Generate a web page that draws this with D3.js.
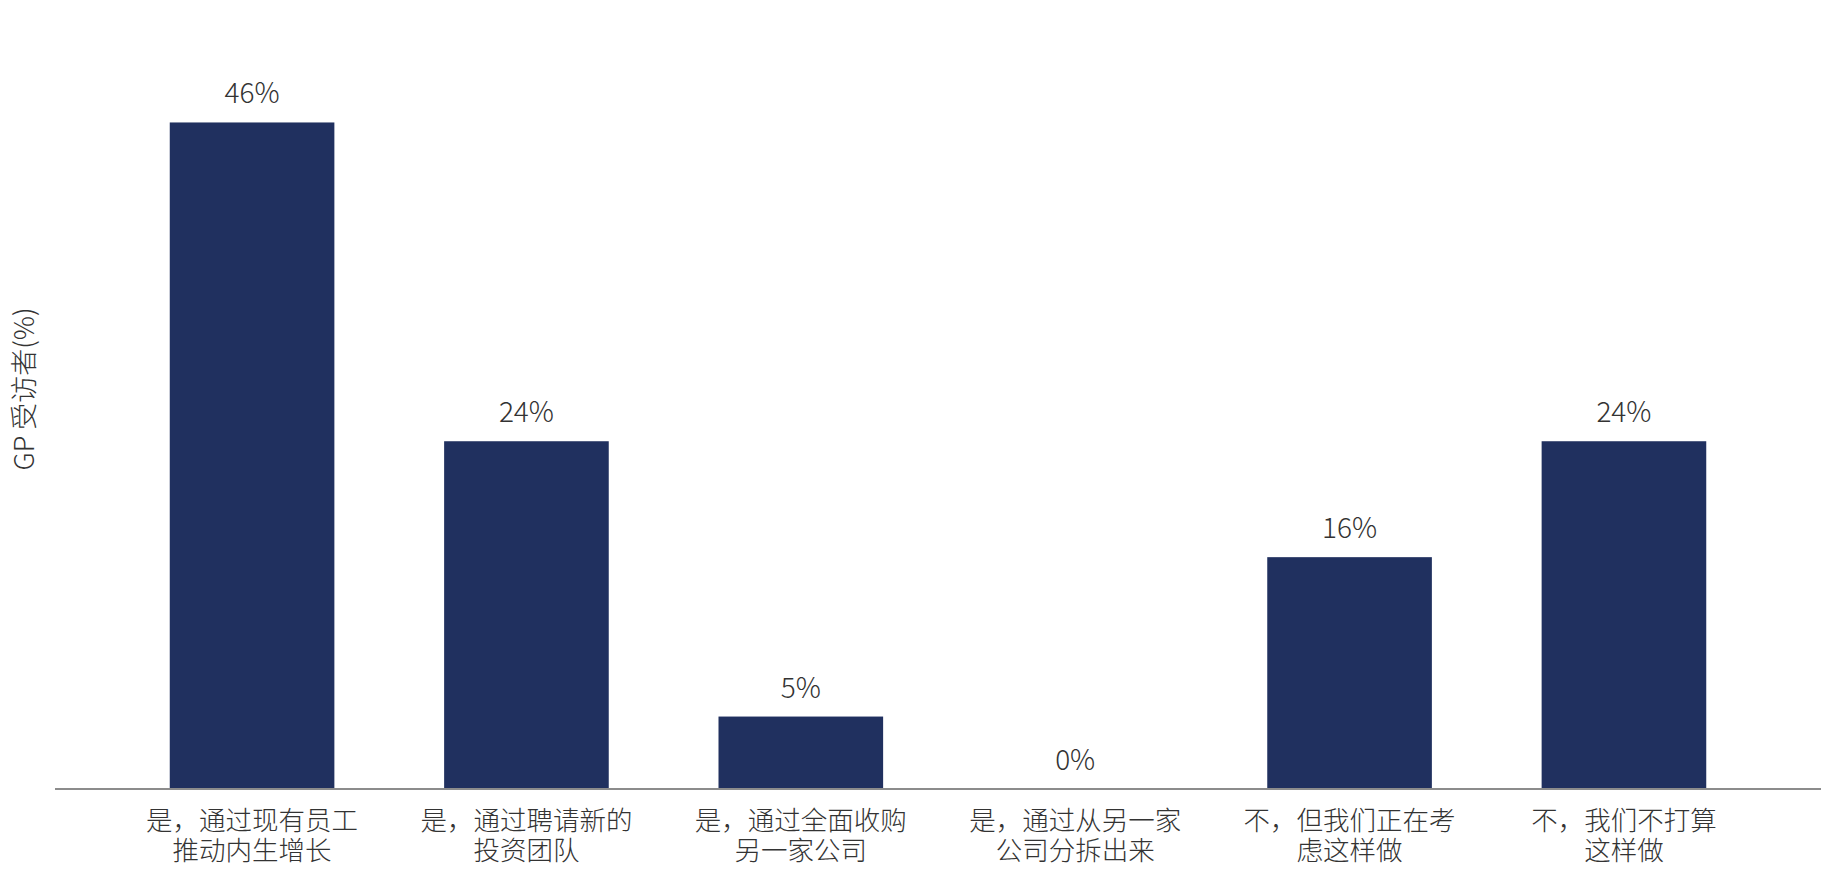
<!DOCTYPE html>
<html>
<head>
<meta charset="utf-8">
<script src="https://cdn.jsdelivr.net/npm/d3@7"></script>
<style>
  html, body { margin: 0; padding: 0; background: #fff; }
  svg { display: block; }
  text { font-family: "Noto Sans CJK SC Light", "Noto Sans CJK SC", "Noto Sans", sans-serif; font-weight: 300; fill: #333; }
</style>
</head>
<body>
<svg id="chart" width="1830" height="880"></svg>
<script>
const categories = [
  ["是，通过现有员工", "推动内生增长"],
  ["是，通过聘请新的", "投资团队"],
  ["是，通过全面收购", "另一家公司"],
  ["是，通过从另一家", "公司分拆出来"],
  ["不，但我们正在考", "虑这样做"],
  ["不，我们不打算", "这样做"]
];
const values = [46, 24, 5, 0, 16, 24];
const yTitle = "GP 受访者(%)";

const svg = d3.select("#chart");
const baseY = 789;

const x = d3.scaleBand()
  .domain(d3.range(categories.length))
  .range([60, 1816])
  .paddingInner(0.4)
  .paddingOuter(0.4);

const y = d3.scaleLinear().domain([0, 50]).range([baseY, 64.5]);

// bars
svg.append("g").selectAll("rect")
  .data(values)
  .join("rect")
  .attr("x", (d, i) => x(i))
  .attr("y", d => y(d))
  .attr("width", x.bandwidth())
  .attr("height", d => baseY - y(d))
  .attr("fill", "#20305f");

// value labels
svg.append("g").selectAll("text")
  .data(values)
  .join("text")
  .attr("x", (d, i) => x(i) + x.bandwidth() / 2)
  .attr("y", d => y(d) - 19)
  .attr("text-anchor", "middle")
  .attr("font-size", 28)
  .text(d => d + "%");

// x axis line
svg.append("line")
  .attr("x1", 55).attr("x2", 1821)
  .attr("y1", baseY).attr("y2", baseY)
  .attr("stroke", "#8c8c8c")
  .attr("stroke-width", 2);

// category labels
const labels = svg.append("g").selectAll("text")
  .data(categories)
  .join("text")
  .attr("text-anchor", "middle")
  .attr("font-size", 26.5);
labels.each(function(d, i) {
  const t = d3.select(this);
  d.forEach((line, j) => {
    t.append("tspan")
      .attr("x", x(i) + x.bandwidth() / 2)
      .attr("y", 818.5 + j * 30)
      .attr("dominant-baseline", "central")
      .text(line);
  });
});

// y title
svg.append("text")
  .attr("transform", `translate(22,389) rotate(-90)`)
  .attr("text-anchor", "middle")
  .attr("dominant-baseline", "central")
  .attr("font-size", 27)
  .text(yTitle);
</script>
</body>
</html>
